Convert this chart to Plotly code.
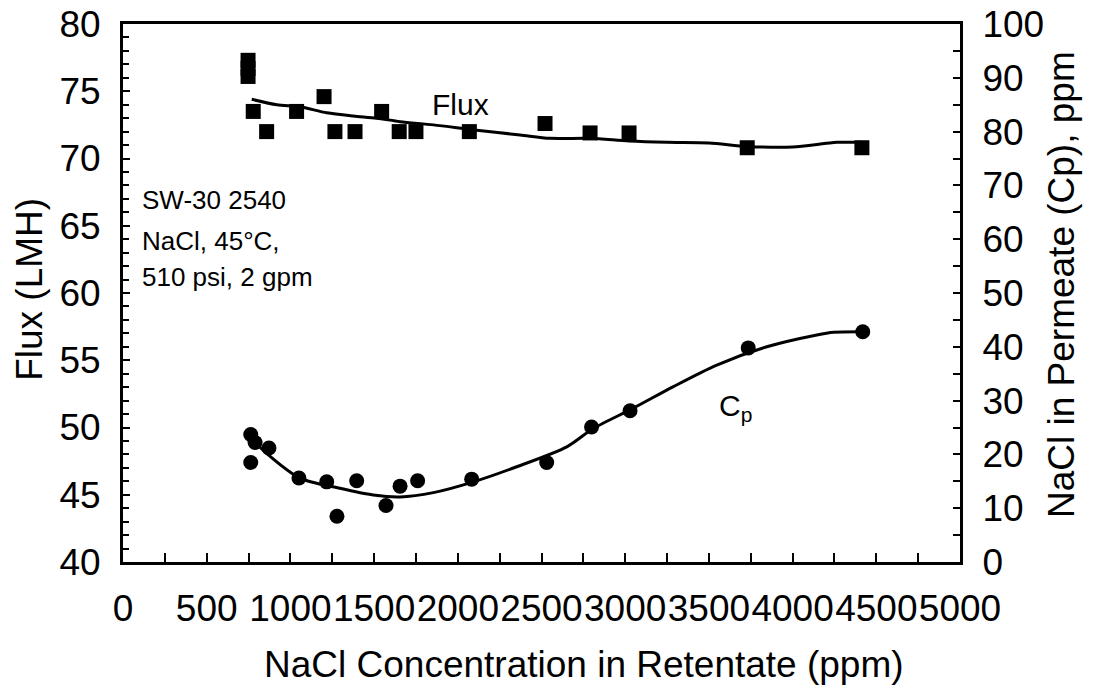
import plotly.graph_objects as go

# Flux data (left axis, LMH)
flux_x = [747, 747, 747, 778, 858, 1037, 1201, 1266, 1386, 1545, 1650, 1750, 2069, 2521, 2790, 3023, 3729, 4414]
flux_y = [77.3, 76.7, 76.1, 73.5, 72.0, 73.5, 74.6, 72.0, 72.0, 73.5, 72.0, 72.0, 72.0, 72.6, 71.9, 71.9, 70.8, 70.8]

# Flux fitted curve
flux_fit_x = [769, 919, 1057, 1217, 1376, 1515, 1655, 1854, 2113, 2372, 2551, 2790, 3023, 3250, 3500, 3729, 4000, 4265, 4414]
flux_fit_y = [74.4, 74.0, 73.85, 73.4, 73.16, 73.0, 72.74, 72.5, 72.1, 71.75, 71.5, 71.5, 71.3, 71.2, 71.15, 70.9, 70.85, 71.2, 71.2]

# Permeate concentration data (right axis, ppm)
cp_x = [763, 763, 789, 872, 1051, 1217, 1278, 1396, 1571, 1655, 1760, 2083, 2531, 2799, 3029, 3735, 4419]
cp_y = [23.7, 18.5, 22.2, 21.2, 15.6, 14.9, 8.5, 15.1, 10.5, 14.1, 15.1, 15.4, 18.5, 25.1, 28.1, 39.8, 42.8]

# Cp fitted curve
cp_fit_x = [739, 858, 1057, 1296, 1495, 1655, 1854, 2093, 2352, 2651, 2809, 3049, 3288, 3547, 3846, 4145, 4245, 4413]
cp_fit_y = [23.9, 20.2, 15.6, 13.7, 12.45, 12.1, 12.9, 14.9, 17.7, 21.4, 24.8, 28.6, 32.6, 36.6, 40.0, 42.2, 42.7, 42.8]

FONT = "Liberation Sans, Arial, sans-serif"

fig = go.Figure()
fig.add_trace(go.Scatter(x=flux_fit_x, y=flux_fit_y, mode="lines",
                         line=dict(color="black", width=3, shape="spline", smoothing=0.8), yaxis="y"))
fig.add_trace(go.Scatter(x=flux_x, y=flux_y, mode="markers",
                         marker=dict(symbol="square", size=15, color="black"), yaxis="y"))
fig.add_trace(go.Scatter(x=cp_fit_x, y=cp_fit_y, mode="lines",
                         line=dict(color="black", width=3, shape="spline", smoothing=0.8), yaxis="y2"))
fig.add_trace(go.Scatter(x=cp_x, y=cp_y, mode="markers",
                         marker=dict(symbol="circle", size=15, color="black"), yaxis="y2"))


def note(text, x, y, size, xref="paper", yref="paper", angle=0, xanchor="center"):
    return dict(text=text, x=x, y=y, xref=xref, yref=yref, showarrow=False,
                textangle=angle, xanchor=xanchor, yanchor="middle",
                font=dict(size=size, family=FONT, color="black"))


fig.update_layout(
    width=1094, height=700,
    margin=dict(l=123, r=134, t=24, b=138),
    paper_bgcolor="white", plot_bgcolor="white",
    showlegend=False,
    font=dict(family=FONT, color="black", size=36),
    xaxis=dict(
        range=[0, 5000], dtick=500, tick0=0, tickangle=0, automargin=False,
        showgrid=False, zeroline=False,
        showline=True, linecolor="black", linewidth=3, mirror=True,
        ticks="inside", ticklen=9, tickwidth=1.5, tickcolor="black",
        minor=dict(dtick=250, ticks="inside", ticklen=9, tickwidth=1.5, tickcolor="black"),
        tickfont=dict(size=37), ticklabelstandoff=12,
    ),
    yaxis=dict(
        range=[40, 80], dtick=5, tick0=40, automargin=False,
        showgrid=False, zeroline=False,
        showline=True, linecolor="black", linewidth=3,
        ticks="inside", ticklen=7, tickwidth=1.5, tickcolor="black",
        minor=dict(dtick=1, ticks="inside", ticklen=6, tickwidth=1.5, tickcolor="black"),
        tickfont=dict(size=37), ticklabelstandoff=12,
    ),
    yaxis2=dict(
        range=[0, 100], dtick=10, tick0=0, overlaying="y", side="right", automargin=False,
        showgrid=False, zeroline=False,
        showline=True, linecolor="black", linewidth=3,
        ticks="inside", ticklen=7, tickwidth=1.5, tickcolor="black",
        minor=dict(dtick=5, ticks="inside", ticklen=7, tickwidth=1.5, tickcolor="black"),
        tickfont=dict(size=37), ticklabelstandoff=12,
    ),
    annotations=[
        note("NaCl Concentration in Retentate (ppm)", 0.551, -0.191, 37),
        note("Flux (LMH)", -0.111, 0.506, 37, angle=-90),
        note("NaCl in Permeate (Cp), ppm", 1.122, 0.515, 37, angle=-90),
        note("Flux", 2019, 74.05, 30, xref="x", yref="y"),
        note("C<sub>p</sub>", 3656, 51.5, 30, xref="x", yref="y"),
        note("SW-30 2540", 0.020, 0.673, 26, xanchor="left"),
        note("NaCl, 45°C,", 0.020, 0.597, 26, xanchor="left"),
        note("510 psi, 2 gpm", 0.020, 0.530, 26, xanchor="left"),
    ],
)

fig.write_html("out.html")
